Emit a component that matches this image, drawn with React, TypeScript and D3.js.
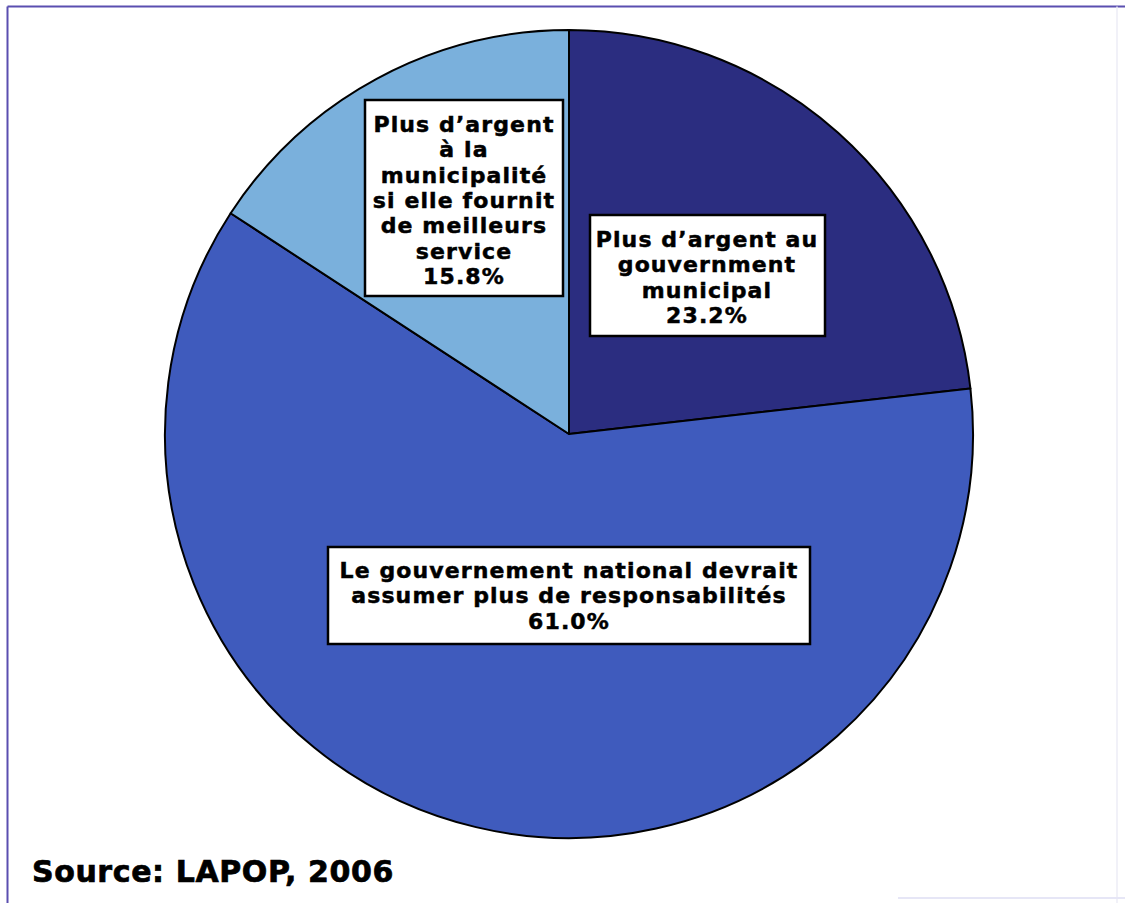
import React from "react";
import * as d3 from "d3";

const categories = [
  "Plus d'argent au gouvernment municipal",
  "Le gouvernement national devrait assumer plus de responsabilités",
  "Plus d'argent à la municipalité si elle fournit de meilleurs service",
];
const values = [23.2, 61.0, 15.8];
const colors = ["#2b2d80", "#3f5bbd", "#7ab0dc"];
const labelLines = [
  ["Plus d\u2019argent au", "gouvernment", "municipal", "23.2%"],
  ["Le gouvernement national devrait", "assumer plus de responsabilités", "61.0%"],
  ["Plus d\u2019argent", "à la", "municipalité", "si elle fournit", "de meilleurs", "service", "15.8%"],
];
const source = "Source: LAPOP, 2006";

const W = 1125;
const H = 903;
const cx = 569;
const cy = 434;
const R = 404;

const boxes = [
  { x: 590, y: 215, w: 235, h: 121, cx: 707, base: 247 },
  { x: 328, y: 547, w: 482, h: 97, cx: 569, base: 578 },
  { x: 365, y: 100, w: 198, h: 196, cx: 464, base: 132 },
];
const lineH = 25.3;

export default function App() {
  const pie = d3
    .pie<number>()
    .sort(null)
    .value((d) => d);
  const arcs = pie(values);
  const arc = d3.arc<d3.PieArcDatum<number>>().innerRadius(0).outerRadius(R);
  const font = "'DejaVu Sans', Arial, sans-serif";

  return (
    <svg
      width={W}
      height={H}
      style={{ position: "absolute", left: 0, top: 0, background: "#fff" }}
    >
      <rect x={0} y={0} width={W} height={H} fill="#fff" />
      <line x1={7.5} y1={6.5} x2={W} y2={6.5} stroke="#5a4fb0" strokeWidth={2} />
      <line x1={7.5} y1={6.5} x2={7.5} y2={H} stroke="#5a4fb0" strokeWidth={2} />
      <line x1={1117} y1={6.5} x2={1117} y2={H} stroke="#ececf6" strokeWidth={1.5} />
      <line x1={898} y1={898} x2={W} y2={898} stroke="#e6e6f6" strokeWidth={2} />
      <g transform={`translate(${cx},${cy})`}>
        {arcs.map((a, i) => (
          <path
            key={categories[i]}
            d={arc(a) || ""}
            fill={colors[i]}
            stroke="#000"
            strokeWidth={2}
            strokeLinejoin="round"
          />
        ))}
      </g>
      {boxes.map((b, i) => (
        <g key={i}>
          <rect
            x={b.x}
            y={b.y}
            width={b.w}
            height={b.h}
            fill="#fff"
            stroke="#000"
            strokeWidth={2.5}
          />
          {labelLines[i].map((t, j) => (
            <text
              key={j}
              x={b.cx}
              y={b.base + j * lineH}
              textAnchor="middle"
              fontFamily={font}
              fontWeight="bold"
              fontSize={22}
              letterSpacing={1.1}
              stroke="#000"
              strokeWidth={0.5}
              fill="#000"
            >
              {t}
            </text>
          ))}
        </g>
      ))}
      <text
        x={32}
        y={882}
        fontFamily={font}
        fontWeight="bold"
        fontSize={30}
        letterSpacing={0.6}
        stroke="#000"
        strokeWidth={0.7}
        fill="#000"
      >
        {source}
      </text>
    </svg>
  );
}
